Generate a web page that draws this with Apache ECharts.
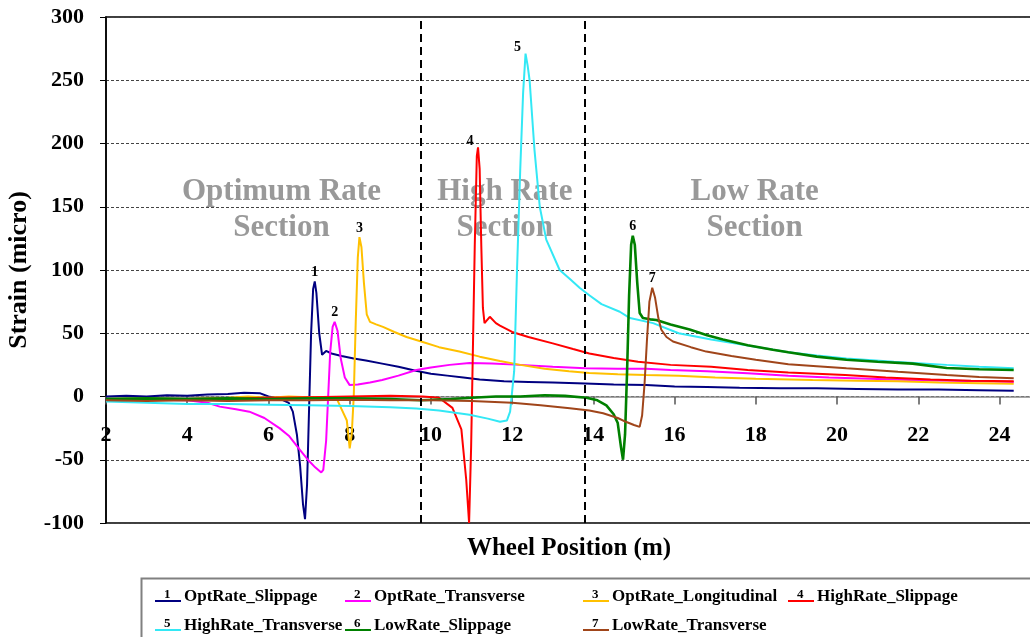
<!DOCTYPE html>
<html><head><meta charset="utf-8">
<script src="https://cdn.jsdelivr.net/npm/echarts@6/dist/echarts.min.js"></script>
<style>html,body{margin:0;padding:0;background:#fff}#c{width:1030px;height:637px}</style>
</head><body><div id="c"></div>
<script>
// ---------- data ----------
const seriesNames = ['OptRate_Slippage','OptRate_Transverse','OptRate_Longitudinal','HighRate_Slippage','HighRate_Transverse','LowRate_Slippage','LowRate_Transverse'];
const peakNumbers = ['1','2','3','4','5','6','7'];
const xTicks = [2,4,6,8,10,12,14,16,18,20,22,24];
const yTicks = [-100,-50,0,50,100,150,200,250,300];
const sectionDividers = [9.76, 13.78];
const sectionTexts = ['Optimum Rate\nSection','High Rate\nSection','Low Rate\nSection'];

const optSlippage = [[2,0],[2.5,0.5],[3,0],[3.5,1],[4,0.5],[4.5,1.5],[5,2],[5.4,3],[5.8,2.5],[6.0,0],[6.3,-2],[6.5,-5],[6.6,-12],[6.7,-30],[6.78,-55],[6.85,-85],[6.9,-97],[6.95,-70],[7.0,-10],[7.05,50],[7.1,85],[7.14,91],[7.18,82],[7.25,50],[7.32,33],[7.42,36],[7.55,34],[7.8,32],[8.1,30],[8.4,28.5],[8.8,26],[9.2,23.5],[9.6,20.5],[10.0,18],[10.4,16.5],[10.8,15],[11.2,13.5],[11.8,12],[12.4,11.5],[13,11],[13.8,10.2],[14.5,9.5],[15.3,9],[16,8],[16.8,7.5],[17.6,7],[18.6,6.5],[19.5,6.5],[20.5,6],[21.5,5.5],[22.5,5.5],[23.5,5],[24.35,4.5]];
const optTransverse = [[2,-3],[3,-2.5],[4,-3],[4.5,-5],[4.8,-8],[5.2,-10],[5.53,-12],[5.9,-17],[6.27,-25],[6.5,-31],[6.77,-42],[7.0,-51],[7.15,-56],[7.3,-60],[7.35,-58],[7.42,-35],[7.47,0],[7.52,35],[7.58,55],[7.63,59],[7.7,52],[7.78,30],[7.88,15],[8.0,9],[8.2,9.5],[8.5,11],[8.8,13],[9.2,16.5],[9.64,21],[10.0,23],[10.46,25],[10.95,26.5],[11.5,26],[12.2,25],[13,23.5],[13.8,22.3],[14.6,22],[15.3,22],[15.9,21],[16.8,20],[17.8,18.3],[18.8,16.5],[19.8,15],[20.8,14],[21.8,13],[22.8,12.5],[23.6,12],[24.35,11.5]];
const optLongitudinal = [[2,-2],[3,-1.5],[4,-2],[5,-1],[5.5,0],[6,-1],[6.5,0],[7,-0.5],[7.5,-1],[7.7,-3],[7.8,-10],[7.93,-19],[8.0,-41],[8.05,-30],[8.1,0],[8.15,60],[8.2,110],[8.24,126],[8.29,118],[8.35,90],[8.42,65],[8.5,59],[8.65,57],[8.82,55],[9.1,51],[9.4,47],[9.76,43.5],[10.2,39],[10.7,35.5],[11.2,31.5],[11.7,28],[12.2,25],[12.8,22],[13.4,20],[13.9,18.5],[14.6,17.5],[15.3,17],[16.1,16.5],[17,15],[18,14],[19.4,13],[20.5,12.5],[21.5,12],[22.5,11],[23.5,10.5],[24.35,10]];
const highSlippage = [[2,-2],[3,-2.5],[4,-2],[5,-1.5],[6,-1],[7,-0.5],[8,0],[9,0.5],[9.8,0],[10.2,-1],[10.53,-9],[10.75,-26],[10.87,-66],[10.94,-100],[10.99,-40],[11.02,13],[11.08,120],[11.13,190],[11.16,197],[11.2,180],[11.24,120],[11.28,70],[11.32,58],[11.45,63],[11.6,58],[11.7,56],[12.0,51],[12.4,47],[13,42],[13.5,37.5],[13.9,34],[14.5,30.5],[15.1,27.5],[15.9,25],[16.9,23.5],[17.8,21],[18.8,19],[20.2,17],[21.2,15],[22.3,13.5],[23.3,12.5],[24.35,12]];
const highTransverse = [[2,-4],[3,-5],[4,-6],[5,-6],[6,-6.5],[7,-7],[8,-7.5],[9,-8.5],[9.64,-9.5],[10.2,-11],[10.95,-14.5],[11.4,-17.5],[11.7,-20],[11.87,-19],[11.95,-12],[12.05,20],[12.12,100],[12.2,180],[12.27,240],[12.33,271],[12.38,262],[12.43,250],[12.55,195],[12.68,150],[12.84,124],[13.17,100],[13.45,92],[13.66,86],[13.9,80],[14.2,73],[14.65,67],[14.9,62],[15.47,58],[16.1,50],[16.9,45],[17.77,40.5],[18.8,35],[19.5,32.5],[20.23,30],[21.4,27.5],[22.7,25],[23.5,23.5],[24.35,22.3]];
const lowSlippage = [[2,-2],[3,-1.5],[4,-2],[5,-1.5],[6,-2],[7,-1.5],[8,-1.5],[9,-2],[9.76,-3],[10.5,-2],[11,-1],[11.6,0],[12.2,0],[12.8,1],[13.3,0.5],[13.83,-1],[14.1,-3],[14.32,-7],[14.5,-14],[14.6,-21],[14.68,-40],[14.73,-50],[14.78,-30],[14.83,20],[14.88,80],[14.93,120],[14.97,127],[15.02,120],[15.08,90],[15.14,66],[15.22,62],[15.4,61],[15.55,60.5],[15.9,57],[16.37,53],[16.8,48.5],[17.19,45],[17.8,40.5],[18.42,37],[18.8,35],[19.5,31.5],[20.23,29],[21,27.5],[21.86,26],[22.7,22.5],[23.5,21.5],[24.35,21]];
const lowTransverse = [[2,-3],[3,-3.5],[4,-3],[5,-3.5],[6,-3],[7,-3],[8,-2.5],[9,-3],[10,-3],[11,-3.5],[12,-5],[12.7,-7],[13.42,-9.3],[13.9,-11],[14.24,-13.3],[14.6,-17],[14.8,-20],[15.0,-22.5],[15.14,-24],[15.2,-15],[15.26,10],[15.32,45],[15.38,75],[15.45,86],[15.52,78],[15.6,62],[15.67,53],[15.8,47],[15.96,43.5],[16.4,39],[16.78,35.5],[17.4,32],[18.0,29],[18.8,25.5],[19.5,24],[20.23,22.3],[21.5,19.5],[22.7,17],[23.5,15.5],[24.35,14.5]];

// annotation anchor positions (data coordinates)
const sectionTextPos = [[6.32,147.5],[11.82,147.5],[17.97,147.5]];

// ---------- styles ----------
const seriesData = [optSlippage,optTransverse,optLongitudinal,highSlippage,highTransverse,lowSlippage,lowTransverse];
const colors = ['#000080','#FF00FF','#FFC000','#FF0000','#33E8F5','#008000','#A0451A'];
const widths = [2,2,2,2,2,2.6,2];
const peakOffsets = [[0,0],[0,0],[0,0],[-8,3],[-8,3],[0,0],[0,0]];
const legendColumns = [[0,4],[1,5],[2,6],[3]];
const legendColumnLeft = [155, 345, 583, 788];
const FONT = 'Liberation Serif';

function iconFor(color, num) {
  const svg = "<svg xmlns='http://www.w3.org/2000/svg' width='26' height='22' viewBox='0 0 26 22'>" +
    "<line x1='0' y1='15' x2='26' y2='15' stroke='" + color + "' stroke-width='2'/>" +
    "<text x='9' y='12' font-family='Liberation Serif' font-weight='bold' font-size='13' fill='#000'>" + num + "</text></svg>";
  return 'image://data:image/svg+xml;charset=utf-8,' + encodeURIComponent(svg);
}

const lineSeries = seriesNames.map((name, i) => ({
  name: name,
  type: 'line',
  data: seriesData[i],
  showSymbol: false,
  symbol: 'none',
  z: 3,
  lineStyle: { color: colors[i], width: widths[i] },
  itemStyle: { color: colors[i] },
  markPoint: {
    symbol: 'circle', symbolSize: 0,
    data: [{ type: 'max', name: 'peak' }],
    label: { show: true, position: 'top', distance: 2, offset: peakOffsets[i], formatter: peakNumbers[i],
      color: '#000', fontFamily: FONT, fontWeight: 'bold', fontSize: 14 }
  }
}));

lineSeries[0].markLine = {
  silent: true, symbol: 'none',
  label: { show: false },
  lineStyle: { color: '#000', type: [8,5], width: 2 },
  data: sectionDividers.map(v => ({ xAxis: v }))
};

const textSeries = {
  type: 'scatter', name: 'sections', z: 1, silent: true,
  symbolSize: 0,
  data: sectionTextPos.map((p, i) => ({ value: p, label: { formatter: sectionTexts[i] } })),
  label: { show: true, position: 'inside', color: '#808080', fontFamily: FONT, fontWeight: 'bold',
    fontSize: 31, lineHeight: 36, align: 'center', verticalAlign: 'middle' }
};

const legends = legendColumns.map((idx, c) => ({
  left: legendColumnLeft[c], top: 586, orient: 'vertical', padding: 0,
  itemGap: 7, itemWidth: 26, itemHeight: 22, selectedMode: false,
  data: idx.map(i => ({ name: seriesNames[i], icon: iconFor(colors[i], peakNumbers[i]) })),
  textStyle: { color: '#000', fontFamily: FONT, fontWeight: 'bold', fontSize: 17, padding: [0,0,0,-2] }
}));

const chart = echarts.init(document.getElementById('c'), null, { renderer: 'canvas' });
chart.setOption({
  backgroundColor: '#fff',
  animation: false,
  grid: { left: 106, right: -2, top: 17, bottom: 114, outerBoundsMode: 'none', containLabel: false,
    show: true, borderColor: '#000', borderWidth: 1.5, backgroundColor: 'transparent' },
  xAxis: {
    type: 'value', min: xTicks[0], max: 24.8, interval: xTicks[1] - xTicks[0],
    axisLine: { onZero: true, lineStyle: { color: '#888', width: 1.5 } },
    axisTick: { show: true, length: 8, lineStyle: { color: '#555', width: 1.5 } },
    axisLabel: { margin: -99, showMaxLabel: false, color: '#000', fontFamily: FONT, fontWeight: 'bold', fontSize: 22 },
    splitLine: { show: false },
    name: 'Wheel Position (m)', nameLocation: 'middle', nameGap: 13,
    nameTextStyle: { color: '#000', fontFamily: FONT, fontWeight: 'bold', fontSize: 25 }
  },
  yAxis: {
    type: 'value', min: yTicks[0], max: yTicks[yTicks.length - 1], interval: yTicks[1] - yTicks[0],
    axisLine: { show: true, lineStyle: { color: '#000', width: 1.5 } },
    axisTick: { show: true, length: 6, lineStyle: { color: '#000', width: 1 } },
    axisLabel: { margin: 22, color: '#000', fontFamily: FONT, fontWeight: 'bold', fontSize: 22 },
    splitLine: { show: true, lineStyle: { color: '#444', type: [3,2], width: 1 } },
    name: 'Strain (micro)', nameLocation: 'middle', nameGap: 70, nameRotate: 90,
    nameTextStyle: { color: '#000', fontFamily: FONT, fontWeight: 'bold', fontSize: 26 }
  },
  legend: legends,
  graphic: [{
    type: 'rect', left: 139, top: 576, silent: true, z: 0,
    shape: { width: 900, height: 70 },
    style: { fill: 'none', stroke: '#808080', lineWidth: 2 }
  }],
  series: [textSeries].concat(lineSeries)
});
</script></body></html>
